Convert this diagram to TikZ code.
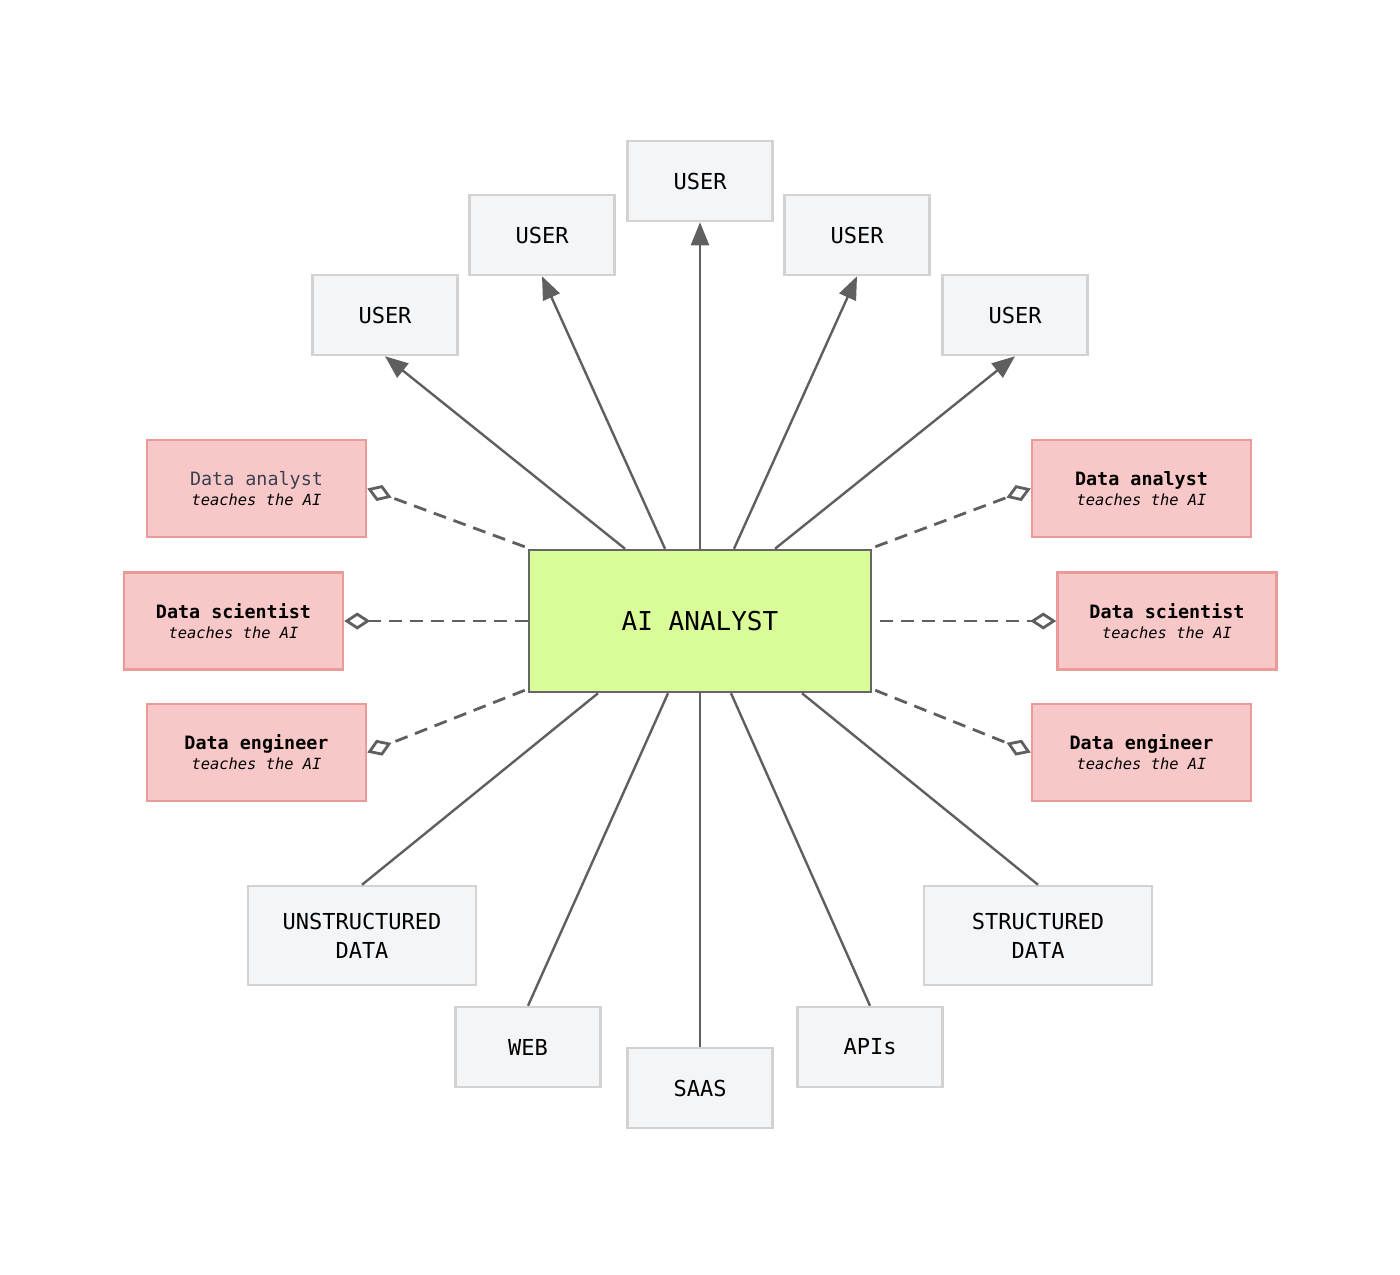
\documentclass[tikz,border=0pt]{standalone}
\usepackage{fontspec}
\setmonofont{DejaVu Sans Mono}
\usetikzlibrary{arrows.meta,calc}
\definecolor{edgecol}{HTML}{5F5F5F}
\definecolor{userfill}{HTML}{F4F5F7}
\definecolor{userdraw}{HTML}{D2D2D2}
\definecolor{pinkfill}{HTML}{F8C8C8}
\definecolor{pinkdraw}{HTML}{EB9A9A}
\definecolor{limefill}{HTML}{D9FC98}
\definecolor{limedraw}{HTML}{666666}
\definecolor{slate}{HTML}{3A4050}
\begin{document}
\begin{tikzpicture}[x=0.5pt,y=-0.5pt,
  every node/.style={font=\ttfamily\fontsize{11}{14.5}\selectfont, inner sep=0pt, align=center},
  graybox/.style={fill=userfill, draw=userdraw, line width=1.25pt, minimum width=72.5pt, minimum height=40pt},
  widebox/.style={graybox, minimum width=114pt, minimum height=49.5pt},
  pinkbox/.style={fill=pinkfill, draw=pinkdraw, line width=1.25pt, minimum width=109.5pt, minimum height=48.5pt, font=\ttfamily\fontsize{9.2}{11}\selectfont},
  aibox/.style={fill=limefill, draw=limedraw, line width=1.25pt, minimum width=171pt, minimum height=71pt, font=\ttfamily\fontsize{13}{16}\selectfont},
  solidline/.style={draw=edgecol, line width=1.2pt},
  arrowline/.style={solidline, -{Triangle[length=11.5pt,width=9pt]}},
  teachline/.style={draw=edgecol, line width=1.4pt, dash pattern=on 6.5pt off 4pt,
     -{Diamond[open,fill=white,length=13pt,width=8.5pt,line width=1.4pt]}}
]
\useasboundingbox (0,0) rectangle (1400,1274);

% central node
\node[aibox] (ai) at (700,621) {AI ANALYST};

% users
\node[graybox] (u1) at (385,315) {USER};
\node[graybox] (u2) at (542,235) {USER};
\node[graybox] (u3) at (700,181) {USER};
\node[graybox] (u4) at (857,235) {USER};
\node[graybox] (u5) at (1015,315) {USER};

% teachers
\newcommand{\teach}{\\[-1pt]{\fontsize{7.7}{9.3}\selectfont\itshape teaches the AI}}
\node[pinkbox] (la) at (256.5,488.5) {{\color{slate}Data analyst}\teach};
\node[pinkbox] (ls) at (233.5,621) {{\bfseries Data scientist}\teach};
\node[pinkbox] (le) at (256.5,752.5) {{\bfseries Data engineer}\teach};
\node[pinkbox] (ra) at (1141.5,488.5) {{\bfseries Data analyst}\teach};
\node[pinkbox] (rs) at (1167,621) {{\bfseries Data scientist}\teach};
\node[pinkbox] (re) at (1141.5,752.5) {{\bfseries Data engineer}\teach};

% sources
\node[widebox] (unst) at (362,935.5) {UNSTRUCTURED\\DATA};
\node[widebox] (st) at (1038,935.5) {STRUCTURED\\DATA};
\node[graybox] (web) at (528,1047) {WEB};
\node[graybox] (saas) at (700,1088) {SAAS};
\node[graybox] (apis) at (870,1047) {APIs};

% arrows to users
\draw[arrowline] ($(ai.north)+(-75,0)$) -- (u1.south);
\draw[arrowline] ($(ai.north)+(-35,0)$) -- (u2.south);
\draw[arrowline] (ai.north) -- (u3.south);
\draw[arrowline] ($(ai.north)+(34,0)$) -- (u4.south);
\draw[arrowline] ($(ai.north)+(75,0)$) -- (u5.south);

% sources lines
\draw[solidline] ($(ai.south)+(-102,0)$) -- (unst.north);
\draw[solidline] ($(ai.south)+(-32,0)$) -- (web.north);
\draw[solidline] (ai.south) -- (saas.north);
\draw[solidline] ($(ai.south)+(31,0)$) -- (apis.north);
\draw[solidline] ($(ai.south)+(102,0)$) -- (st.north);

% teach lines
\draw[teachline] ($(ai.north west)+(-3,-2)$) -- (la.east);
\draw[teachline] (ai.west) -- (ls.east);
\draw[teachline] ($(ai.south west)+(-3,-3)$) -- (le.east);
\draw[teachline] ($(ai.north east)+(3,-2)$) -- (ra.west);
\draw[teachline] ($(ai.east)+(8,0)$) -- (rs.west);
\draw[teachline] ($(ai.south east)+(3,-3)$) -- (re.west);
\end{tikzpicture}
\end{document}
